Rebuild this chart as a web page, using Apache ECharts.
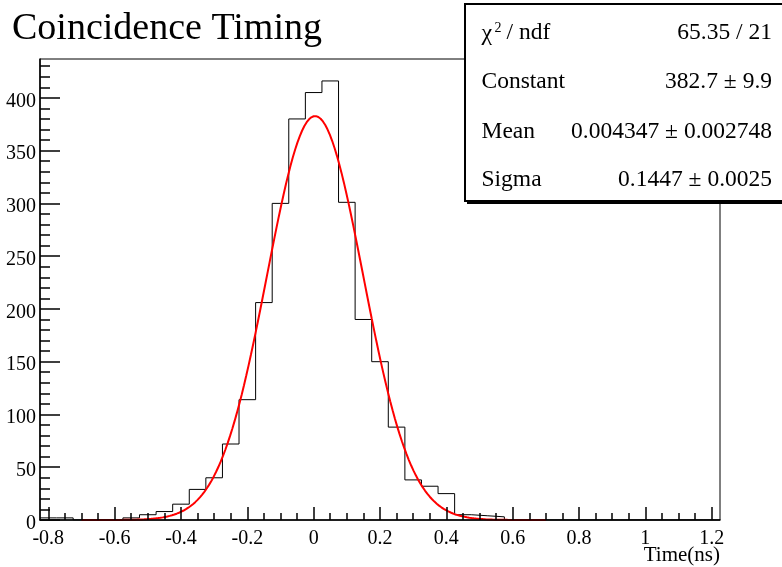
<!DOCTYPE html>
<html><head><meta charset="utf-8">
<script src="https://cdn.jsdelivr.net/npm/echarts@6/dist/echarts.min.js"></script>
<style>html,body{margin:0;padding:0;background:#fff}#c{width:782px;height:567px}</style>
</head><body><div id="c"></div>
<script>
// ---- data ----
const binCenters = [-0.8,-0.75,-0.7,-0.65,-0.6,-0.55,-0.5,-0.45,-0.4,-0.35,-0.3,-0.25,-0.2,-0.15,-0.1,-0.05,0,0.05,0.1,0.15,0.2,0.25,0.3,0.35,0.4,0.45,0.5,0.55,0.6,0.65,0.7,0.75,0.8,0.85,0.9,0.95,1,1.05,1.1,1.15,1.2];
const counts = [2,2,0,0,0,2,5,8,15,29,40,72,114,206,300,380,405,416,301,190,150,88,38,32,25,5,4,3,0,0,0,0,0,0,0,0,0,0,0,0,0];
const binWidth = 0.05;
const xMajorTicks = [-0.8,-0.6,-0.4,-0.2,0,0.2,0.4,0.6,0.8,1,1.2];
const xMinorTicks = [-0.8,-0.75,-0.7,-0.65,-0.6,-0.55,-0.5,-0.45,-0.4,-0.35,-0.3,-0.25,-0.2,-0.15,-0.1,-0.05,0,0.05,0.1,0.15,0.2,0.25,0.3,0.35,0.4,0.45,0.5,0.55,0.6,0.65,0.7,0.75,0.8,0.85,0.9,0.95,1,1.05,1.1,1.15,1.2];
const yMajorTicks = [0,50,100,150,200,250,300,350,400];
const yMinorTicks = [0,10,20,30,40,50,60,70,80,90,100,110,120,130,140,150,160,170,180,190,200,210,220,230,240,250,260,270,280,290,300,310,320,330,340,350,360,370,380,390,400,410,420,430];
const xRange = [-0.825, 1.225];
const yRange = [0, 436.8];
const fitConstant = 382.7, fitMean = 0.004347, fitSigma = 0.1447;
const fitRange = [-0.7, 0.7];
const titleText = 'Coincidence Timing';
const xAxisTitle = 'Time(ns)';
const statsLabels = ['/ ndf', 'Constant', 'Mean', 'Sigma'];
const statsValues = ['65.35 / 21', '382.7 \u00b1 9.9', '0.004347 \u00b1 0.002748', '0.1447 \u00b1 0.0025'];

// ---- build series data ----
const histData = counts.map((v, i) => [binCenters[i] - binWidth / 2, v]);
histData.push([binCenters[binCenters.length - 1] + binWidth / 2, counts[counts.length - 1]]);
const fitData = [];
const NPX = 200;
for (let i = 0; i <= NPX; i++) {
  const x = fitRange[0] + (fitRange[1] - fitRange[0]) * i / NPX;
  const t = (x - fitMean) / fitSigma;
  fitData.push([x, fitConstant * Math.exp(-0.5 * t * t)]);
}

const FONT = 'Liberation Serif';
const SF = '23.5px "' + FONT + '"';
const chart = echarts.init(document.getElementById('c'), null, {renderer: 'canvas'});
const rowY = [32.5, 82, 131.5, 180];
const graphics = [
  {type: 'text', position: [12, 29.5],
   style: {text: titleText, font: '38px "' + FONT + '"', fill: '#000', verticalAlign: 'middle', align: 'left'}, z: 100},
  {type: 'text', position: [720, 555], style: {text: xAxisTitle, font: '21px "' + FONT + '"', fill: '#000', align: 'right', verticalAlign: 'middle'}, z: 100},
  {type: 'rect', shape: {x: 467, y: 6, width: 320, height: 198}, style: {fill: '#000'}, z: 100},
  {type: 'rect', shape: {x: 465, y: 4, width: 320, height: 197}, style: {fill: '#fff', stroke: '#000', lineWidth: 2}, z: 101},
  {type: 'text', position: [481.5, rowY[0] + 1], style: {text: '\u03c7', font: '24px "' + FONT + '"', fill: '#000', align: 'left', verticalAlign: 'middle'}, z: 102},
  {type: 'text', position: [494.5, rowY[0] - 4], style: {text: '2', font: '14px "' + FONT + '"', fill: '#000', align: 'left', verticalAlign: 'middle'}, z: 102},
  {type: 'text', position: [506.5, rowY[0]], style: {text: statsLabels[0], font: SF, fill: '#000', align: 'left', verticalAlign: 'middle'}, z: 102}
];
for (let i = 1; i < statsLabels.length; i++) {
  graphics.push({type: 'text', position: [481.5, rowY[i]], style: {text: statsLabels[i], font: SF, fill: '#000', align: 'left', verticalAlign: 'middle'}, z: 102});
}
for (let i = 0; i < statsValues.length; i++) {
  graphics.push({type: 'text', position: [772, rowY[i]], style: {text: statsValues[i], font: SF, fill: '#000', align: 'right', verticalAlign: 'middle'}, z: 102});
}

const axisText = {fontFamily: FONT, fontSize: 20, color: '#000'};
const option = {
  animation: false,
  backgroundColor: '#fff',
  grid: {left: 40, right: 62, top: 59, bottom: 47, show: true, borderColor: '#000', borderWidth: 1, backgroundColor: 'transparent'},
  xAxis: [
    {type: 'value', min: xRange[0], max: xRange[1], position: 'bottom', z: 5,
     axisLine: {show: true, onZero: false, lineStyle: {color: '#000', width: 1.5}},
     axisTick: {show: true, inside: true, length: 13, customValues: xMajorTicks, lineStyle: {color: '#000', width: 1.5}},
     axisLabel: {show: true, margin: 9, customValues: xMajorTicks, ...axisText, formatter: v => String(v)},
     splitLine: {show: false}},
    {type: 'value', min: xRange[0], max: xRange[1], position: 'bottom', z: 5,
     axisLine: {show: false, onZero: false},
     axisTick: {show: true, inside: true, length: 7, customValues: xMinorTicks, lineStyle: {color: '#000', width: 1.5}},
     axisLabel: {show: false}, splitLine: {show: false}}
  ],
  yAxis: [
    {type: 'value', min: yRange[0], max: yRange[1], position: 'left', z: 5,
     axisLine: {show: true, onZero: false, lineStyle: {color: '#000', width: 1.5}},
     axisTick: {show: true, inside: true, length: 20, customValues: yMajorTicks, lineStyle: {color: '#000', width: 1.5}},
     axisLabel: {show: true, margin: 4, verticalAlign: 'top', lineHeight: 7, customValues: yMajorTicks, ...axisText, formatter: v => String(v)},
     splitLine: {show: false}},
    {type: 'value', min: yRange[0], max: yRange[1], position: 'left', z: 5,
     axisLine: {show: false, onZero: false},
     axisTick: {show: true, inside: true, length: 10, customValues: yMinorTicks, lineStyle: {color: '#000', width: 1.5}},
     axisLabel: {show: false}, splitLine: {show: false}}
  ],
  series: [
    {type: 'line', name: 'hist', xAxisIndex: 0, yAxisIndex: 0, step: 'end', data: histData, symbol: 'none',
     lineStyle: {color: '#000', width: 1}, z: 3, clip: true},
    {type: 'line', name: 'fit', xAxisIndex: 0, yAxisIndex: 0, data: fitData, symbol: 'none', smooth: false,
     lineStyle: {color: '#ff0000', width: 2}, z: 4, clip: true}
  ],
  graphic: graphics
};
chart.setOption(option);
</script>
</body></html>
